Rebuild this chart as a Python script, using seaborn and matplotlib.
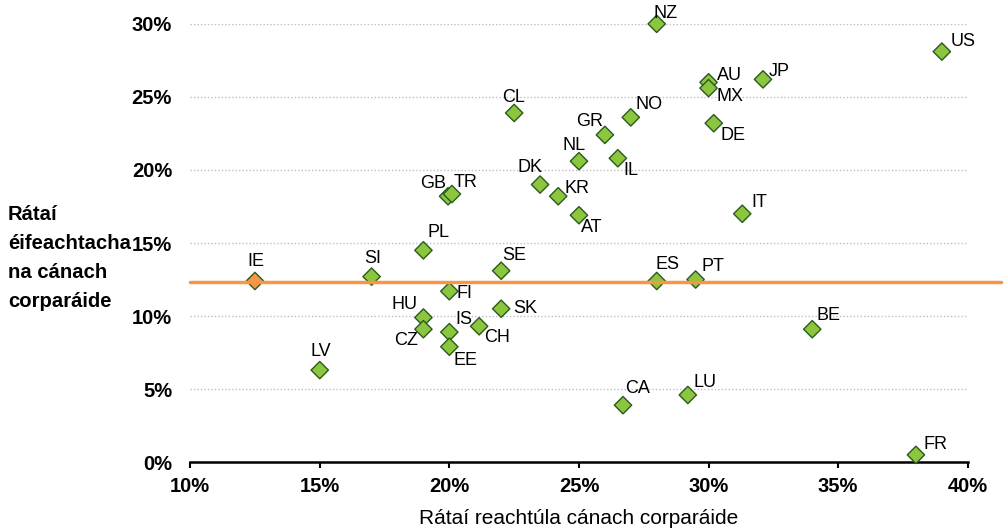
import matplotlib.pyplot as plt
import matplotlib.ticker as mticker
import seaborn as sns
import pandas as pd

# statutory rate (x) and effective rate (y), in %
countries = ['NZ', 'US', 'AU', 'MX', 'JP', 'NO', 'DE', 'GR', 'CL', 'NL', 'IL', 'DK',
             'KR', 'GB', 'TR', 'AT', 'IT', 'PL', 'SE', 'IE', 'SI', 'ES', 'PT', 'FI',
             'SK', 'HU', 'CZ', 'IS', 'CH', 'EE', 'BE', 'LV', 'CA', 'LU', 'FR']
statutory = [28.0, 39.0, 30.0, 30.0, 32.1, 27.0, 30.2, 26.0, 22.5, 25.0, 26.5, 23.5,
             24.2, 19.95, 20.1, 25.0, 31.3, 19.0, 22.0, 12.5, 17.0, 28.0, 29.5, 20.0,
             22.0, 19.0, 19.0, 20.0, 21.15, 20.0, 34.0, 15.0, 26.7, 29.2, 38.0]
effective = [30.0, 28.1, 26.0, 25.6, 26.2, 23.6, 23.2, 22.4, 23.9, 20.6, 20.8, 19.0,
             18.2, 18.2, 18.35, 16.9, 17.0, 14.5, 13.1, 12.4, 12.7, 12.4, 12.5, 11.7,
             10.5, 9.9, 9.1, 8.9, 9.3, 7.9, 9.1, 6.3, 3.9, 4.6, 0.5]
highlight = 'IE'
reference_rate = 12.35

# label offsets in pixels (dx right, dy down) from each marker
label_offsets = {
    'NZ': (9, -10), 'US': (21, -10), 'AU': (21, -7), 'MX': (21, 8), 'JP': (16, -8),
    'NO': (18, -13), 'DE': (19, 12), 'GR': (-15, -13), 'CL': (-1, -15), 'NL': (-5, -16),
    'IL': (13, 12), 'DK': (-10, -17), 'KR': (19, -8), 'GB': (-15, -13), 'TR': (14, -12),
    'AT': (13, 12), 'IT': (17, -11), 'PL': (15, -18), 'SE': (13, -15), 'IE': (1, -19),
    'SI': (1, -18), 'ES': (11, -16), 'PT': (17, -13), 'FI': (15, 2), 'SK': (24, 0),
    'HU': (-19, -13), 'CZ': (-17, 11), 'IS': (15, -13), 'CH': (18, 11), 'EE': (16, 14),
    'BE': (16, -14), 'LV': (1, -19), 'CA': (15, -17), 'LU': (17, -12), 'FR': (20, -10),
}

df = pd.DataFrame({'country': countries, 'statutory': statutory, 'effective': effective})
df['group'] = ['hl' if c == highlight else 'other' for c in df['country']]

sns.set_style('white')
plt.rcParams['font.family'] = ['Liberation Sans', 'DejaVu Sans']
plt.rcParams['text.color'] = 'black'
plt.rcParams['axes.labelcolor'] = 'black'
plt.rcParams['xtick.color'] = 'black'
plt.rcParams['ytick.color'] = 'black'

fig = plt.figure(figsize=(10.06, 5.30), dpi=100)
ax = fig.add_axes([0.189, 0.128, 0.773, 0.827])

for y in [5, 10, 15, 20, 25, 30]:
    ax.axhline(y, color='#BFBFBF', lw=1, ls=(0, (1, 1.5)), zorder=0)

sns.scatterplot(data=df, x='statutory', y='effective', hue='group',
                palette={'other': '#8CC63F', 'hl': '#F79646'}, marker='D', s=78,
                edgecolor='#2B5A1E', linewidth=1, legend=False, ax=ax, zorder=3,
                clip_on=False)

ax.plot([10, 41.3], [reference_rate, reference_rate], color='#F79646', lw=2.5,
        zorder=4, clip_on=False)

for c, x, y in zip(countries, statutory, effective):
    dx, dy = label_offsets[c]
    ax.annotate(c, (x, y), xytext=(dx * 0.72, -dy * 0.72), textcoords='offset points',
                ha='center', va='center', fontsize=13, color='black', zorder=5)

ax.set_xlim(10, 40)
ax.set_ylim(0, 30)
ax.set_xticks([10, 15, 20, 25, 30, 35, 40])
ax.set_yticks([0, 5, 10, 15, 20, 25, 30])
ax.xaxis.set_major_formatter(mticker.FuncFormatter(lambda v, p: f'{v:.0f}%'))
ax.yaxis.set_major_formatter(mticker.FuncFormatter(lambda v, p: f'{v:.0f}%'))
for lab in ax.get_xticklabels() + ax.get_yticklabels():
    lab.set_fontweight('bold')
ax.tick_params(axis='x', direction='out', length=4, width=1.5, labelsize=14.5, pad=7,
               color='black', bottom=True)
ax.tick_params(axis='y', length=0, labelsize=14.5, pad=13)

for s in ['top', 'right', 'left']:
    ax.spines[s].set_visible(False)
ax.spines['bottom'].set_color('black')
ax.spines['bottom'].set_linewidth(1.8)

ax.set_xlabel('Rátaí reachtúla cánach corparáide', fontsize=15, labelpad=9)
ax.set_ylabel('')
fig.text(0.008, 0.513, 'Rátaí\néifeachtacha\nna cánach\ncorparáide', fontsize=14.6,
         fontweight='bold', ha='left', va='center', linespacing=1.68)

fig.savefig('out.png', dpi=100)
